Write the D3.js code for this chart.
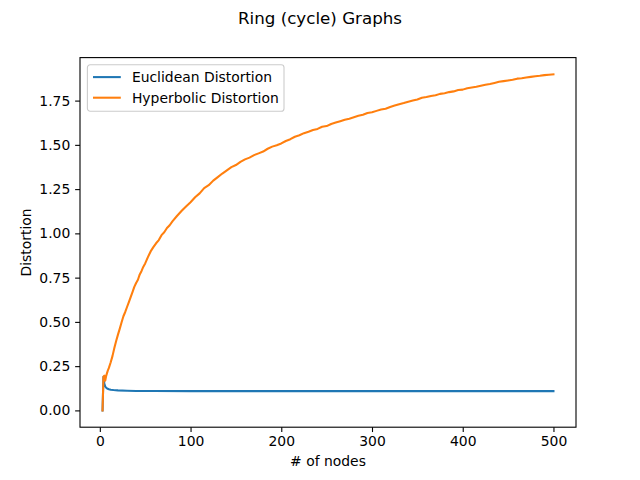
<!DOCTYPE html>
<html>
<head>
<meta charset="utf-8">
<script src="https://d3js.org/d3.v7.min.js"></script>
<style>
  body { margin: 0; background: #fff; }
  svg text { font-family: "DejaVu Sans", sans-serif; fill: #000; }
</style>
</head>
<body>
<script>
// number of nodes in the ring, and the distortion
var hypNodes = [3,4,5,6,7,8,9,10,12,14,16,18,20,22,24,26,28,30,32,34,36,38,40,42,44,46,48,50,
  53,56,59,62,65,68,71,74,77,80,85,90,95,100,105,110,115,120,125,130,135,140,145,150,155,160,
  165,170,175,180,185,190,195,200,205,210,215,220,225,230,235,240,245,250,255,260,265,270,275,
  280,285,290,295,300,305,310,315,320,325,330,335,340,345,350,355,360,365,370,375,380,385,390,
  395,400,405,410,415,420,425,430,435,440,445,450,455,460,465,470,475,480,485,490,495,500];
var hypDist = [0.000,0.190,0.196,0.168,0.195,0.212,0.228,0.240,0.272,0.308,0.352,0.392,0.428,
  0.462,0.498,0.532,0.556,0.584,0.612,0.640,0.668,0.698,0.720,0.738,0.768,0.788,0.812,0.830,
  0.866,0.898,0.922,0.944,0.962,0.990,1.006,1.030,1.046,1.068,1.098,1.126,1.152,1.176,1.204,
  1.226,1.256,1.272,1.298,1.318,1.338,1.356,1.374,1.386,1.404,1.418,1.428,1.442,1.452,1.462,
  1.478,1.490,1.498,1.508,1.522,1.532,1.546,1.554,1.566,1.574,1.584,1.590,1.602,1.606,1.618,
  1.626,1.634,1.642,1.648,1.656,1.664,1.670,1.680,1.684,1.692,1.700,1.704,1.714,1.722,1.730,
  1.736,1.744,1.750,1.756,1.766,1.770,1.776,1.780,1.788,1.792,1.798,1.802,1.810,1.812,1.820,
  1.824,1.828,1.834,1.840,1.844,1.850,1.856,1.860,1.864,1.868,1.874,1.876,1.880,1.884,1.888,
  1.890,1.894,1.896,1.898];

var eucNodes = [3,4,5,6,7,8,10,12,15,20,30,40,60,100,200,300,400,500];
var eucDist = [0.000,0.190,0.150,0.135,0.128,0.124,0.120,0.117,0.115,0.113,0.111,0.110,0.1095,
  0.109,0.1088,0.1088,0.1087,0.1087];

var xTicks = [0,100,200,300,400,500];
var yTicks = [0,0.25,0.5,0.75,1,1.25,1.5,1.75];
var seriesNames = ["Euclidean Distortion","Hyperbolic Distortion"];
var seriesColors = ["#1f77b4","#ff7f0e"];

var W = 640, H = 480;
var axL = 80, axR = 576, axT = 57.6, axB = 427.2;

var svg = d3.select("body").append("svg").attr("width", W).attr("height", H);

var series = [
  { name: seriesNames[0], color: seriesColors[0], pts: d3.zip(eucNodes, eucDist) },
  { name: seriesNames[1], color: seriesColors[1], pts: d3.zip(hypNodes, hypDist) }
];

// matplotlib-style 5% margins
var allX = hypNodes.concat(eucNodes), allY = hypDist.concat(eucDist);
var x0 = d3.min(allX), x1 = d3.max(allX), y0 = d3.min(allY), y1 = d3.max(allY);
var mx = (x1 - x0) * 0.05, my = (y1 - y0) * 0.05;
var x = d3.scaleLinear().domain([x0 - mx, x1 + mx]).range([axL, axR]);
var y = d3.scaleLinear().domain([y0 - my, y1 + my]).range([axB, axT]);

svg.append("clipPath").attr("id", "clip").append("rect")
  .attr("x", axL).attr("y", axT).attr("width", axR - axL).attr("height", axB - axT);

var line = d3.line().x(function(d){ return x(d[0]); }).y(function(d){ return y(d[1]); });

svg.append("g").attr("clip-path", "url(#clip)")
  .selectAll("path").data(series).enter().append("path")
  .attr("d", function(d){ return line(d.pts); })
  .attr("fill", "none")
  .attr("stroke", function(d){ return d.color; })
  .attr("stroke-width", 2.08)
  .attr("stroke-linejoin", "round")
  .attr("stroke-linecap", "square");

// axes
var xAxis = svg.append("g").attr("transform", "translate(0," + axB + ")")
  .call(d3.axisBottom(x).tickValues(xTicks).tickSize(4.86).tickPadding(4.2).tickFormat(d3.format("d")));
var yAxis = svg.append("g").attr("transform", "translate(" + axL + ",0)")
  .call(d3.axisLeft(y).tickValues(yTicks).tickSize(4.86).tickPadding(4.86).tickFormat(d3.format(".2f")));

[xAxis, yAxis].forEach(function(g){
  g.select(".domain").remove();
  g.selectAll(".tick line").attr("stroke", "#000").attr("stroke-width", 1.1);
  g.selectAll(".tick text").attr("font-size", "13.9px").attr("font-family", "DejaVu Sans").attr("fill", "#000");
});

svg.append("rect")
  .attr("x", axL).attr("y", axT).attr("width", axR - axL).attr("height", axB - axT)
  .attr("fill", "none").attr("stroke", "#000").attr("stroke-width", 1.1);

// labels
svg.append("text").attr("x", (axL + axR) / 2).attr("y", 466)
  .attr("text-anchor", "middle").attr("font-size", "13.9px").text("# of nodes");
svg.append("text").attr("transform", "translate(31," + (axT + axB) / 2 + ") rotate(-90)")
  .attr("text-anchor", "middle").attr("font-size", "13.9px").text("Distortion");
svg.append("text").attr("x", W / 2).attr("y", 24)
  .attr("text-anchor", "middle").attr("font-size", "16.7px").text("Ring (cycle) Graphs");

// legend
var lg = svg.append("g").attr("transform", "translate(87.4,64.8)");
lg.append("rect").attr("width", 196.6).attr("height", 46.4).attr("rx", 2.8)
  .attr("fill", "#fff").attr("fill-opacity", 0.8).attr("stroke", "#cccccc").attr("stroke-width", 1.1);
var items = lg.selectAll("g.item").data(series).enter().append("g")
  .attr("transform", function(d, i){ return "translate(0," + (12.3 + i * 20.6) + ")"; });
items.append("line").attr("x1", 5.6).attr("x2", 33.4)
  .attr("stroke", function(d){ return d.color; }).attr("stroke-width", 2.08);
items.append("text").attr("x", 44.5).attr("y", 5).attr("font-size", "13.9px")
  .text(function(d){ return d.name; });
</script>
</body>
</html>
